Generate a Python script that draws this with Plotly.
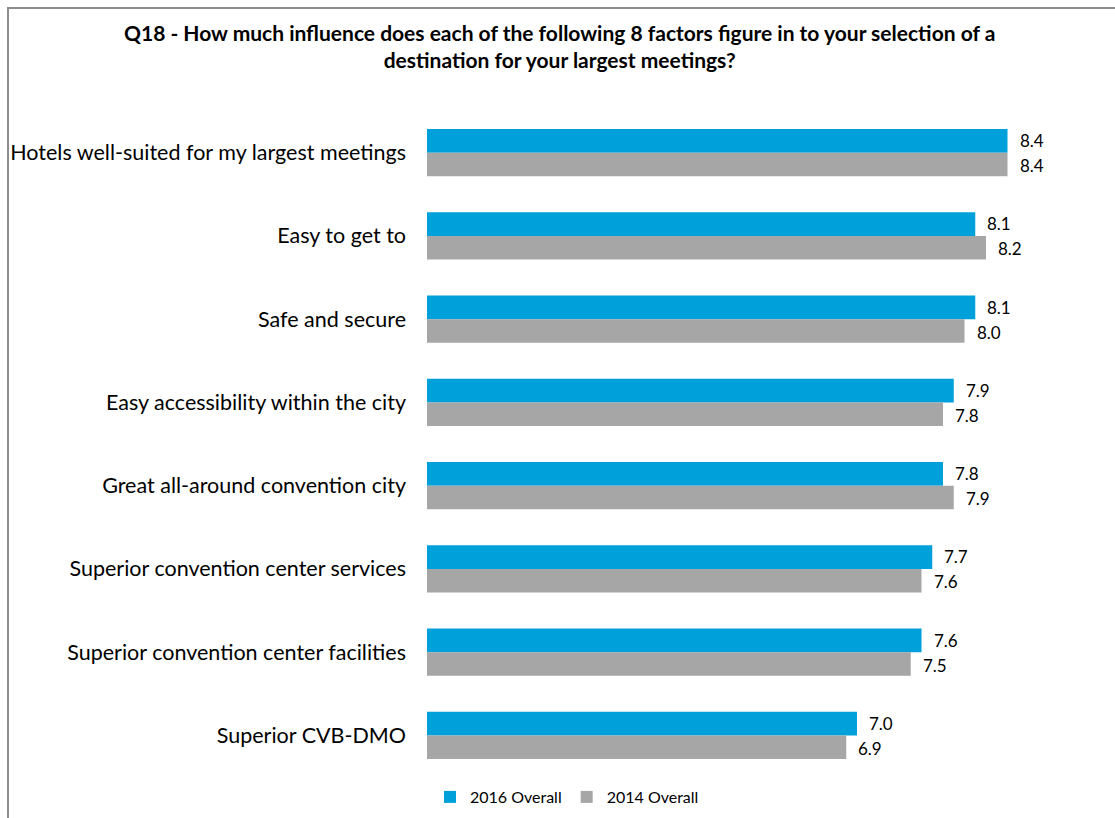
import plotly.graph_objects as go

categories = [
    "Hotels well-suited for my largest meetings",
    "Easy to get to",
    "Safe and secure",
    "Easy accessibility within the city",
    "Great all-around convention city",
    "Superior convention center services",
    "Superior convention center facilities",
    "Superior CVB-DMO",
]
overall_2016 = [8.4, 8.1, 8.1, 7.9, 7.8, 7.7, 7.6, 7.0]
overall_2014 = [8.4, 8.2, 8.0, 7.8, 7.9, 7.6, 7.5, 6.9]
series_names = ["2016 Overall", "2014 Overall"]
colors = ["#00A0DA", "#A6A6A6"]
title_text = ("<b>Q18 - How much influence does each of the following 8 factors figure in to your selection of a"
              "<br>destination for your largest meetings?</b>")

W, H = 1115, 818
ML, MR, MT, MB = 427, 0, 111, 41
FONT = "Lato"

fig = go.Figure()
for name, vals, col in zip(series_names, [overall_2016, overall_2014], colors):
    fig.add_trace(go.Bar(
        y=categories, x=vals, name=name, orientation="h",
        marker=dict(color=col, line=dict(width=0)),
    ))

pw = W - ML - MR
ph = H - MT - MB

# value labels to the right of each bar
annotations = []
for vals, shift in [(overall_2016, 12), (overall_2014, -13)]:
    for c, v in zip(categories, vals):
        annotations.append(dict(
            x=v, y=c, xref="x", yref="y", text=f"{v:.1f}",
            showarrow=False, xanchor="left", yanchor="middle",
            xshift=10, yshift=shift,
            font=dict(family=FONT, size=17, color="#000000"),
        ))

# chart title, centred on the page
annotations.append(dict(
    text=title_text, xref="paper", yref="paper",
    x=(W / 2 + 2 - ML) / pw, y=1 + (MT - 45.5) / ph,
    xanchor="center", yanchor="middle", showarrow=False, align="center",
    font=dict(family=FONT, size=21, color="#000000"),
))

# outer chart frame (left and top edges visible)
fig.add_shape(type="rect", xref="paper", yref="paper",
              x0=(8 - ML) / pw, x1=(W + 20 - ML) / pw,
              y0=-(MB + 20) / ph, y1=1 + (MT - 8) / ph,
              line=dict(color="#8C8C8C", width=2), fillcolor="rgba(0,0,0,0)",
              layer="below")

fig.update_layout(
    width=W, height=H,
    margin=dict(l=ML, r=MR, t=MT, b=MB),
    paper_bgcolor="white", plot_bgcolor="white",
    barmode="group", bargap=0.43, bargroupgap=0,
    xaxis=dict(range=[3, 3 + pw / 107.5], visible=False, fixedrange=True),
    yaxis=dict(autorange="reversed", showline=False, showgrid=False,
               ticks="", ticklabelstandoff=20,
               tickfont=dict(family=FONT, size=21.5, color="#000000")),
    legend=dict(orientation="h", x=(567 - ML) / pw, xanchor="center",
                y=-20 / ph, yanchor="middle",
                font=dict(family=FONT, size=16, color="#000000"),
                itemwidth=30, traceorder="normal"),
    annotations=annotations,
    showlegend=True,
)

fig.write_html("out.html")
